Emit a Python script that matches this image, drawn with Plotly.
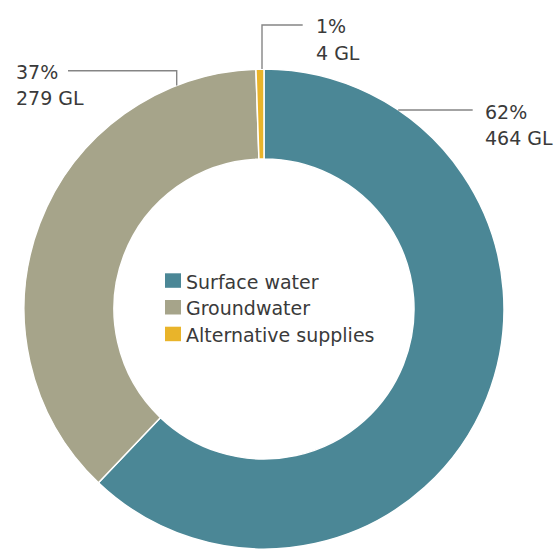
import math
import plotly.graph_objects as go

# Water supply by source (gigalitres)
sources = ["Surface water", "Groundwater", "Alternative supplies"]
volumes_gl = [464, 279, 4]
colors = ["#4b8796", "#a6a48a", "#e9b42a"]

W, H = 557, 549
FONT = "DejaVu Sans"
FS = 19
TEXT_COLOR = "#3a3a3a"
LINE_COLOR = "#858585"

# Donut geometry in page pixels
CX, R = 264, 240
CY = H - R
HOLE = 0.625

total = sum(volumes_gl)
percents = [round(v / total * 100) for v in volumes_gl]


def px(x):
    return x / W


def py(y):
    return 1 - y / H


fig = go.Figure(
    go.Pie(
        labels=sources,
        values=volumes_gl,
        sort=False,
        direction="clockwise",
        rotation=0,
        hole=HOLE,
        textinfo="none",
        showlegend=False,
        marker=dict(colors=colors, line=dict(color="white", width=1.5)),
        domain=dict(x=[px(CX - R), px(CX + R)], y=[0, py(H - 2 * R)]),
    )
)

annotations = []
shapes = []


def add_text(x, y, text):
    annotations.append(
        dict(
            x=px(x), y=py(y), xref="paper", yref="paper",
            xanchor="left", yanchor="middle", showarrow=False,
            text=text, font=dict(family=FONT, size=FS, color=TEXT_COLOR),
        )
    )


def add_path(points):
    d = "M " + " L ".join(f"{px(x)},{py(y)}" for x, y in points)
    shapes.append(
        dict(type="path", xref="paper", yref="paper", path=d,
             line=dict(color=LINE_COLOR, width=1.4))
    )


def ring_y_at(x):
    return CY - math.sqrt(R ** 2 - (x - CX) ** 2)


def ring_x_at(y):
    return CX + math.sqrt(R ** 2 - (y - CY) ** 2)


# Callout placement for each source: text anchor (left x, first-line y)
callouts = {
    "Surface water": (483, 111.7),
    "Groundwater": (14, 71.7),
    "Alternative supplies": (314, 26.5),
}
LINE_GAP = 26.7

for name, pct, vol in zip(sources, percents, volumes_gl):
    tx, ty = callouts[name]
    add_text(tx, ty, f"{pct}%")
    add_text(tx, ty + LINE_GAP, f"{vol} GL")

# Leader lines from the labels to the ring
add_path([(ring_x_at(110), 110), (472.7, 110)])
add_path([(68, 70.7), (176.7, 70.7), (176.7, ring_y_at(176.7))])
add_path([(302.7, 25), (262, 25), (262, ring_y_at(262))])

# Legend inside the hole
LEG_X, LEG_Y0, LEG_STEP = 165, 288.3, 26.7
for i, (name, col) in enumerate(zip(sources, colors)):
    base = LEG_Y0 + i * LEG_STEP
    shapes.append(
        dict(type="rect", xref="paper", yref="paper",
             x0=px(LEG_X), x1=px(LEG_X + 16),
             y0=py(base - 0.5), y1=py(base - 15),
             fillcolor=col, line=dict(width=0))
    )
    add_text(LEG_X + 19, base - 6.6, name)

fig.update_layout(
    width=W,
    height=H,
    margin=dict(l=0, r=0, t=0, b=0),
    paper_bgcolor="white",
    plot_bgcolor="white",
    annotations=annotations,
    shapes=shapes,
)

fig.write_html("out.html")
